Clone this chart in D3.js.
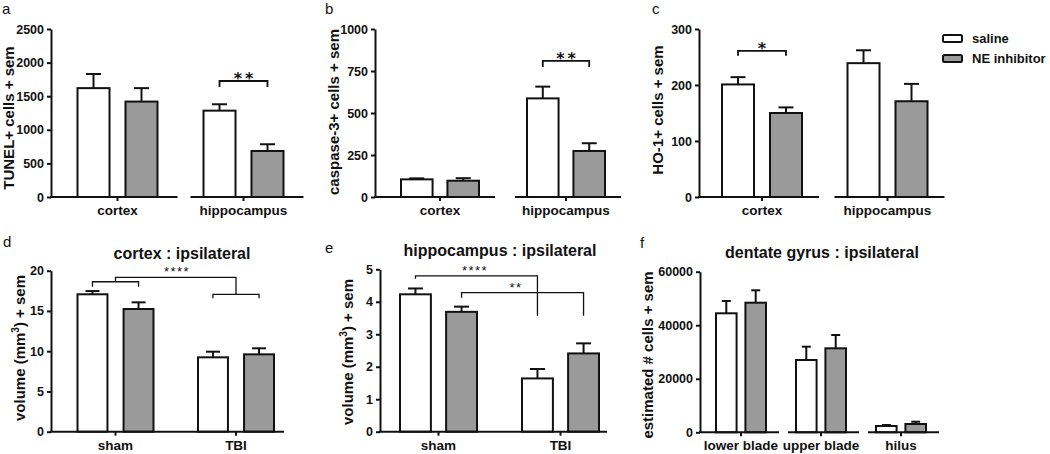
<!DOCTYPE html>
<html>
<head>
<meta charset="utf-8">
<script src="https://cdn.jsdelivr.net/npm/d3@7"></script>
<style>
body { margin: 0; background: #fff; }
text { font-family: "Liberation Sans", Arial, sans-serif; font-weight: bold; fill: #111; }
text.plain { font-weight: normal; }
text.stars { font-family: "DejaVu Sans", sans-serif; }
</style>
</head>
<body>
<svg id="fig" width="1050" height="454"></svg>
<script>
// series shared by all panels
const series = ['saline', 'NE inhibitor'];

// a: TUNEL+ cells
const tunelGroups = ['cortex', 'hippocampus'];
const tunelMean = [[1620, 1420], [1285, 685]];
const tunelSem = [[210, 200], [95, 100]];
const tunelTicks = [0, 500, 1000, 1500, 2000, 2500];

// b: caspase-3+ cells
const caspGroups = ['cortex', 'hippocampus'];
const caspMean = [[105, 97], [587, 274]];
const caspSem = [[6, 15], [70, 46]];
const caspTicks = [0, 250, 500, 750, 1000];

// c: HO-1+ cells
const hoGroups = ['cortex', 'hippocampus'];
const hoMean = [[201, 150], [239, 171]];
const hoSem = [[13, 10], [23, 31]];
const hoTicks = [0, 100, 200, 300];

// d: cortex volume
const ctxGroups = ['sham', 'TBI'];
const ctxMean = [[17.07, 15.24], [9.24, 9.61]];
const ctxSem = [[0.4, 0.83], [0.7, 0.75]];
const ctxTicks = [0, 5, 10, 15, 20];

// e: hippocampus volume
const hipGroups = ['sham', 'TBI'];
const hipMean = [[4.23, 3.69], [1.64, 2.41]];
const hipSem = [[0.18, 0.16], [0.29, 0.31]];
const hipTicks = [0, 1, 2, 3, 4, 5];

// f: dentate gyrus cell counts
const dgGroups = ['lower blade', 'upper blade', 'hilus'];
const dgMean = [[44460, 48420], [27010, 31380], [2350, 3100]];
const dgSem = [[4600, 4630], [4980, 4970], [380, 860]];
const dgTicks = [0, 20000, 40000, 60000];

const svg = d3.select('#fig');
const fillFor = { 'saline': '#ffffff', 'NE inhibitor': '#9a9a9a' };

function drawPanel(cfg) {
	const g = svg.append('g');
	const y = d3.scaleLinear().domain([0, d3.max(cfg.ticks)]).range([cfg.bottom, cfg.top]);
	const x = d3.scalePoint().domain(cfg.groups).range([cfg.c0, cfg.c1]);
	const inner = d3.scaleBand().domain(series).range([-cfg.gw / 2, cfg.gw / 2]).paddingInner(cfg.gap);
	const bw = inner.bandwidth();

	// bars with error bars on top
	cfg.groups.forEach(function(grp, i) {
		series.forEach(function(s, j) {
			const v = cfg.mean[i][j], e = cfg.sem[i][j];
			const bx = x(grp) + inner(s), cx = bx + bw / 2;
			g.append('line').attr('x1', cx).attr('x2', cx).attr('y1', y(v)).attr('y2', y(v + e))
				.attr('stroke', '#111').attr('stroke-width', 2);
			g.append('line').attr('x1', cx - cfg.cap / 2).attr('x2', cx + cfg.cap / 2)
				.attr('y1', y(v + e)).attr('y2', y(v + e))
				.attr('stroke', '#111').attr('stroke-width', 2);
			g.append('rect').attr('x', bx).attr('y', y(v)).attr('width', bw).attr('height', cfg.bottom - y(v))
				.attr('fill', fillFor[s]).attr('stroke', '#111').attr('stroke-width', 2);
		});
	});

	// y axis
	const ya = g.append('g').attr('transform', 'translate(' + cfg.axisX + ',0)')
		.call(d3.axisLeft(y).tickValues(cfg.ticks).tickFormat(d3.format('d'))
			.tickSize(4).tickSizeOuter(0).tickPadding(3));
	ya.selectAll('path, line').attr('stroke', '#111').attr('stroke-width', 2);
	ya.selectAll('text').attr('font-size', 12.5).attr('font-family', null).attr('fill', '#111');

	// x axis, broken into segments or one line
	if (cfg.xEnd) {
		g.append('line').attr('x1', cfg.axisX - 1).attr('x2', cfg.xEnd).attr('y1', cfg.bottom).attr('y2', cfg.bottom)
			.attr('stroke', '#111').attr('stroke-width', 2);
	} else {
		cfg.groups.forEach(function(grp, i) {
			const left = i == 0 ? cfg.axisX - 1 : x(grp) - cfg.segL;
			g.append('line').attr('x1', left).attr('x2', x(grp) + cfg.segR).attr('y1', cfg.bottom).attr('y2', cfg.bottom)
				.attr('stroke', '#111').attr('stroke-width', 2);
		});
	}
	cfg.groups.forEach(function(grp) {
		g.append('line').attr('x1', x(grp)).attr('x2', x(grp)).attr('y1', cfg.bottom).attr('y2', cfg.bottom + 4)
			.attr('stroke', '#111').attr('stroke-width', 2);
		g.append('text').attr('x', x(grp)).attr('y', cfg.bottom + 18).attr('text-anchor', 'middle')
			.attr('font-size', 13.5).text(grp);
	});

	// y axis title
	const yt = g.append('text').attr('transform', 'translate(' + cfg.ytX + ',' + cfg.ytY + ') rotate(-90)')
		.attr('text-anchor', 'middle').attr('dy', '0.35em').attr('font-size', 15);
	if (cfg.ytSup) {
		yt.append('tspan').text(cfg.yTitle[0]);
		yt.append('tspan').attr('font-size', 10).attr('dy', '-0.6em').text(cfg.ytSup);
		yt.append('tspan').attr('dy', '0.4em').text(cfg.yTitle[1]);
	} else {
		yt.text(cfg.yTitle);
	}

	// panel letter and title
	g.append('text').attr('class', 'plain').attr('x', cfg.letter[1]).attr('y', cfg.letter[2])
		.attr('font-size', 15).text(cfg.letter[0]);
	if (cfg.title) {
		g.append('text').attr('x', cfg.title[1]).attr('y', cfg.title[2]).attr('text-anchor', 'middle')
			.attr('font-size', 16).text(cfg.title[0]);
	}

	return { x: x, y: y, inner: inner, g: g, bw: bw };
}

// simple bracket between the two bars of one group
function groupBracket(p, grp, level, leg, stars, starDy) {
	const xa = p.x(grp) + p.inner(series[0]) + p.bw / 2;
	const xb = p.x(grp) + p.inner(series[1]) + p.bw / 2;
	const yy = p.y(level);
	p.g.append('path').attr('d', 'M' + xa + ',' + (yy + leg) + 'V' + yy + 'H' + xb + 'V' + (yy + leg))
		.attr('fill', 'none').attr('stroke', '#111').attr('stroke-width', 1.8);
	p.g.append('text').attr('class', 'stars').attr('x', (xa + xb) / 2 + 1.5).attr('y', yy + starDy)
		.attr('text-anchor', 'middle').attr('font-size', 16).attr('letter-spacing', 3).text(stars);
}

const pa = drawPanel({ groups: tunelGroups, mean: tunelMean, sem: tunelSem, ticks: tunelTicks,
	axisX: 51, top: 29, bottom: 197, c0: 117.5, c1: 243.5, gw: 80, gap: 0.333, cap: 15, segL: 53, segR: 60,
	yTitle: 'TUNEL+ cells + sem', ytX: 9, ytY: 118, letter: ['a', 2, 14] });
groupBracket(pa, 'hippocampus', 1726, 6, '**', 3);

const pb = drawPanel({ groups: caspGroups, mean: caspMean, sem: caspSem, ticks: caspTicks,
	axisX: 375, top: 29, bottom: 197, c0: 440, c1: 566, gw: 78, gap: 0.32, cap: 15, segL: 51, segR: 55,
	yTitle: 'caspase-3+ cells + sem', ytX: 334, ytY: 112, letter: ['b', 325, 14] });
groupBracket(pb, 'hippocampus', 810, 6, '**', 3);

const pc = drawPanel({ groups: hoGroups, mean: hoMean, sem: hoSem, ticks: hoTicks,
	axisX: 699, top: 29, bottom: 197, c0: 762, c1: 887.5, gw: 80, gap: 0.333, cap: 15, segL: 53, segR: 57,
	yTitle: 'HO-1+ cells + sem', ytX: 658, ytY: 110, letter: ['c', 652, 14] });
groupBracket(pc, 'cortex', 261, 5, '*', 3);

// legend
series.forEach(function(s, i) {
	svg.append('rect').attr('x', 943).attr('y', 35 + i * 20).attr('width', 19).attr('height', 7).attr('rx', 1.5)
		.attr('fill', fillFor[s]).attr('stroke', '#111').attr('stroke-width', 2);
	svg.append('text').attr('x', 972).attr('y', 43 + i * 20).attr('font-size', 13).text(s);
});

const pd = drawPanel({ groups: ctxGroups, mean: ctxMean, sem: ctxSem, ticks: ctxTicks,
	axisX: 51, top: 270.7, bottom: 431.7, c0: 115.5, c1: 236, gw: 76, gap: 0.35, cap: 14, xEnd: 284,
	yTitle: ['volume (mm', ') + sem'], ytSup: '3', ytX: 20, ytY: 348, letter: ['d', 3, 247],
	title: ['cortex : ipsilateral', 182, 259] });

const pe = drawPanel({ groups: hipGroups, mean: hipMean, sem: hipSem, ticks: hipTicks,
	axisX: 380, top: 269.3, bottom: 431.7, c0: 438.5, c1: 560.5, gw: 77, gap: 0.33, cap: 15, xEnd: 607,
	yTitle: ['volume (mm', ') + sem'], ytSup: '3', ytX: 348, ytY: 352, letter: ['e', 325, 253],
	title: ['hippocampus : ipsilateral', 500, 256] });

const pf = drawPanel({ groups: dgGroups, mean: dgMean, sem: dgSem, ticks: dgTicks,
	axisX: 700, top: 271.7, bottom: 432.3, c0: 741, c1: 901, gw: 50, gap: 0.3, cap: 9, segL: 33, segR: 38,
	yTitle: 'estimated # cells + sem', ytX: 648, ytY: 355, letter: ['f', 640, 248],
	title: ['dentate gyrus : ipsilateral', 822, 258] });

// d: sham vs TBI brackets joined above
(function() {
	const p = pd;
	const c = function(grp, s) { return p.x(grp) + p.inner(s) + p.bw / 2; };
	const sa = c('sham', series[0]), sb = c('sham', series[1]);
	const ta = c('TBI', series[0]), tb = c('TBI', series[1]);
	const ys = p.y(18.63), yt = p.y(17.07), ytop = p.y(19.18);
	const line = function(d) {
		p.g.append('path').attr('d', d).attr('fill', 'none').attr('stroke', '#111').attr('stroke-width', 1.3);
	};
	line('M' + sa + ',' + (ys + 5) + 'V' + ys + 'H' + sb + 'V' + (ys + 5));
	line('M' + ta + ',' + (yt + 4) + 'V' + yt + 'H' + tb + 'V' + (yt + 4));
	line('M' + (sa + sb) / 2 + ',' + ys + 'V' + ytop + 'H' + (ta + tb) / 2 + 'V' + yt);
	p.g.append('text').attr('class', 'plain').attr('x', 177).attr('y', ytop - 1).attr('text-anchor', 'middle')
		.attr('font-size', 13).attr('letter-spacing', 1.5).text('****');
})();

// e: sham vs TBI per treatment
(function() {
	const p = pe;
	const c = function(grp, s) { return p.x(grp) + p.inner(s) + p.bw / 2; };
	const yEnd = p.y(3.57);
	const pairs = [
		{ s: series[0], level: 4.80, leg: 3, stars: '****', tx: 475 },
		{ s: series[1], level: 4.28, leg: 5, stars: '**', tx: 516 }
	];
	pairs.forEach(function(d) {
		const x1 = c('sham', d.s), x2 = c('TBI', d.s), yy = p.y(d.level);
		p.g.append('path').attr('d', 'M' + x1 + ',' + (yy + d.leg) + 'V' + yy + 'H' + x2 + 'V' + yEnd)
			.attr('fill', 'none').attr('stroke', '#111').attr('stroke-width', 1.3);
		p.g.append('text').attr('class', 'plain').attr('x', d.tx).attr('y', yy - 1).attr('text-anchor', 'middle')
			.attr('font-size', 13).attr('letter-spacing', 1.5).text(d.stars);
	});
})();
</script>
</body>
</html>
